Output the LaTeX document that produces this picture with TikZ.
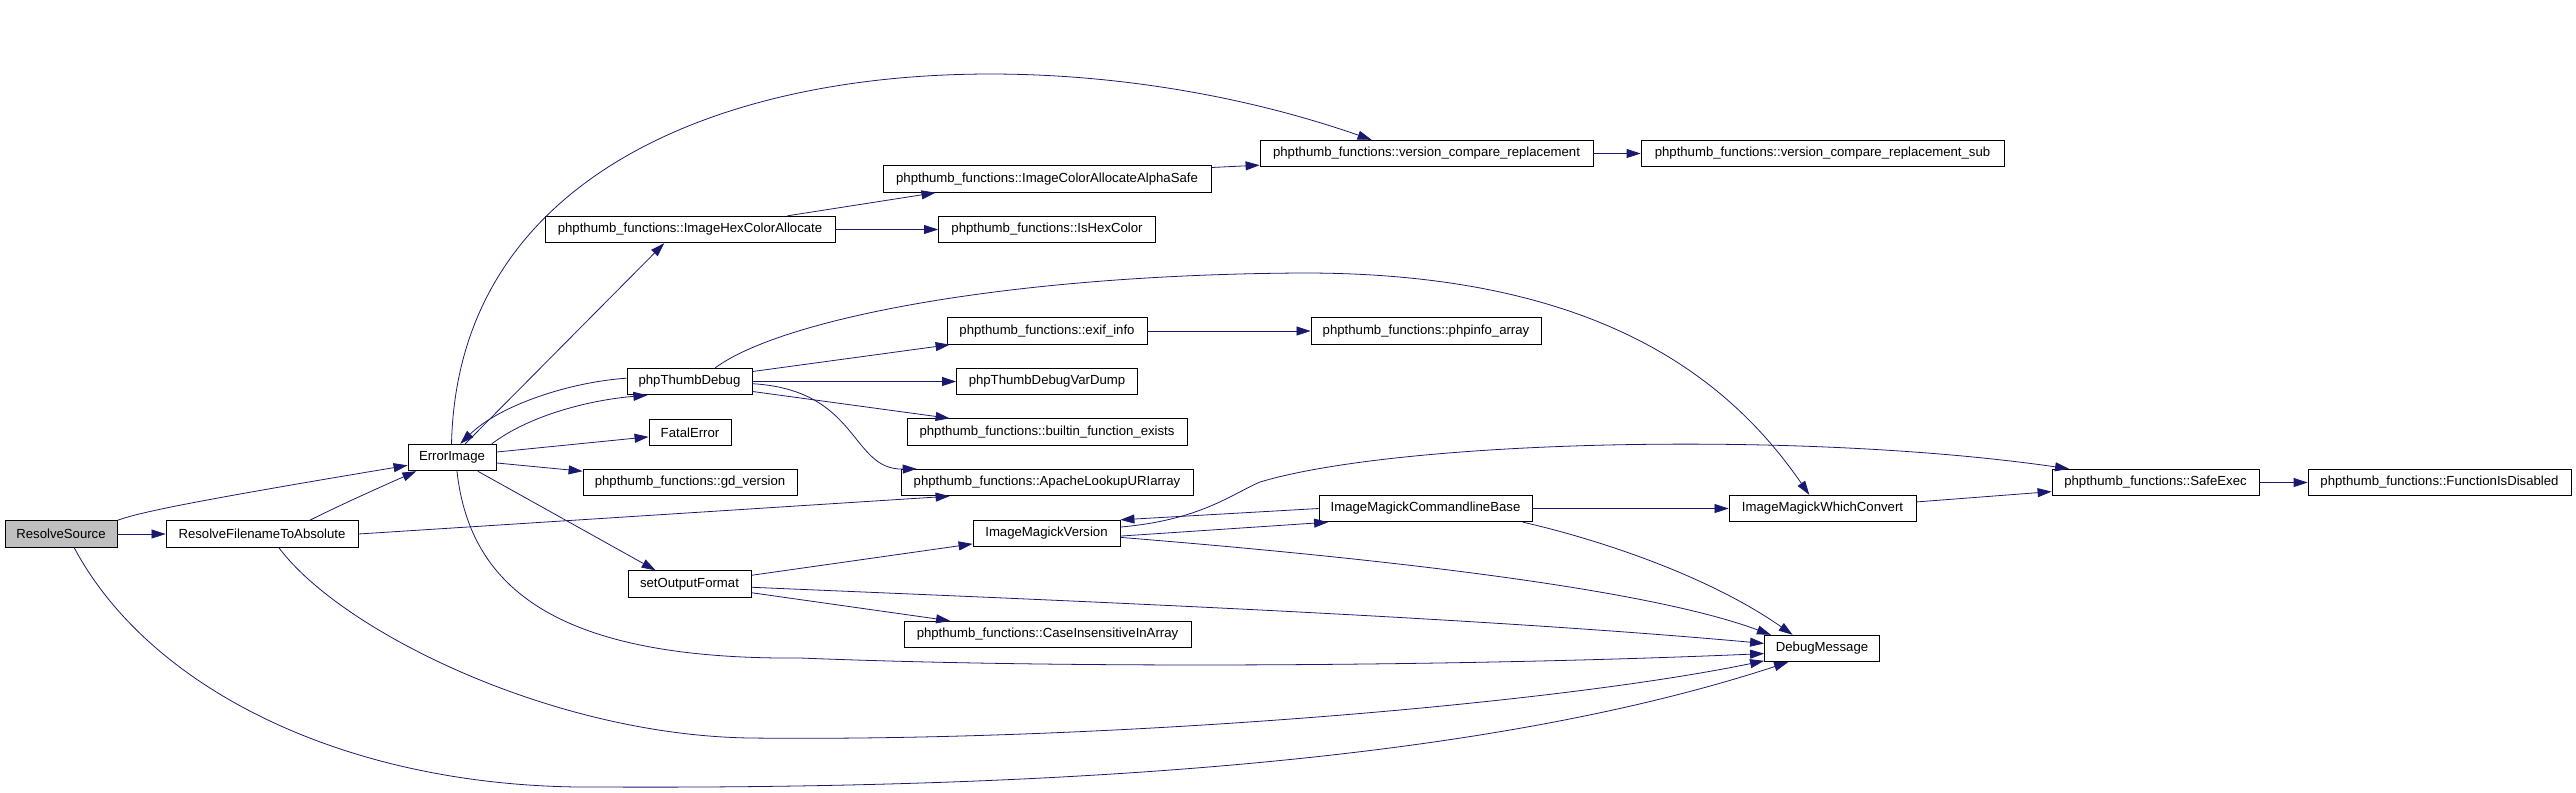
\documentclass[tikz,border=0pt]{standalone}
\usepackage{fontspec}
\setmainfont{Liberation Sans}
\usetikzlibrary{arrows.meta}
\definecolor{edgeblue}{HTML}{191970}
\definecolor{rootgray}{HTML}{BFBFBF}

\begin{document}
\begin{tikzpicture}[x=0.02cm,y=-0.02cm,
  fn/.style={draw,line width=0.5pt,inner sep=0pt,minimum height=0.53cm,font=\fontsize{7.5}{9}\selectfont},
  calls/.style={draw=edgeblue,line width=0.45pt,-{Triangle[length=0.28cm,width=0.18cm]}}]
  \useasboundingbox (0,0) rectangle (2576,792);
  \node[fn,fill=rootgray,minimum width=2.24cm] (rs) at (61,534) {ResolveSource};
  \node[fn,minimum width=3.84cm] (rfa) at (262,534) {ResolveFilenameToAbsolute};
  \node[fn,minimum width=1.76cm] (err) at (452,457.5) {ErrorImage};
  \node[fn,minimum width=5.80cm] (ihca) at (690,229.5) {phpthumb\_functions::ImageHexColorAllocate};
  \node[fn,minimum width=6.56cm] (icaas) at (1047,179) {phpthumb\_functions::ImageColorAllocateAlphaSafe};
  \node[fn,minimum width=4.34cm] (ihc) at (1047,229.5) {phpthumb\_functions::IsHexColor};
  \node[fn,minimum width=6.66cm] (vcr) at (1426.5,153.5) {phpthumb\_functions::version\_compare\_replacement};
  \node[fn,minimum width=7.26cm] (vcrs) at (1822.5,153.5) {phpthumb\_functions::version\_compare\_replacement\_sub};
  \node[fn,minimum width=2.50cm] (ptd) at (689.5,381.5) {phpThumbDebug};
  \node[fn,minimum width=4.00cm] (exif) at (1047,331) {phpthumb\_functions::exif\_info};
  \node[fn,minimum width=4.60cm] (pia) at (1426,331) {phpthumb\_functions::phpinfo\_array};
  \node[fn,minimum width=3.62cm] (ptdvd) at (1047,381.5) {phpThumbDebugVarDump};
  \node[fn,minimum width=1.64cm] (fe) at (690,432.5) {FatalError};
  \node[fn,minimum width=5.60cm] (bfe) at (1047,432) {phpthumb\_functions::builtin\_function\_exists};
  \node[fn,minimum width=4.28cm] (gdv) at (690,482.5) {phpthumb\_functions::gd\_version};
  \node[fn,minimum width=5.84cm] (alu) at (1047,482.5) {phpthumb\_functions::ApacheLookupURIarray};
  \node[fn,minimum width=2.94cm] (imv) at (1046.5,533.5) {ImageMagickVersion};
  \node[fn,minimum width=2.46cm] (sof) at (689.5,584) {setOutputFormat};
  \node[fn,minimum width=5.74cm] (ciia) at (1047.5,634.5) {phpthumb\_functions::CaseInsensitiveInArray};
  \node[fn,minimum width=4.26cm] (imcb) at (1425.5,508.5) {ImageMagickCommandlineBase};
  \node[fn,minimum width=3.74cm] (imwc) at (1822.5,508.5) {ImageMagickWhichConvert};
  \node[fn,minimum width=2.30cm] (dm) at (1822,648.5) {DebugMessage};
  \node[fn,minimum width=4.14cm] (se) at (2155.5,482.5) {phpthumb\_functions::SafeExec};
  \node[fn,minimum width=5.26cm] (fid) at (2439.5,482.5) {phpthumb\_functions::FunctionIsDisabled};

  \draw[calls] (rs) -- (rfa);
  \draw[calls] (rs.north east) .. controls (140,512) and (200,500) .. (err.190);
  \draw[calls] (rs.-46) .. controls (150,690) and (350,790) .. (600,787) .. controls (1200,790) and (1550,740) .. (dm.202);
  \draw[calls] (rfa.16) .. controls (340,505) and (385,485) .. (err.201);
  \draw[calls] (rfa.east) -- (alu.188);
  \draw[calls] (rfa.-39) .. controls (340,630) and (550,735) .. (750,738) .. controls (1100,742) and (1550,705) .. (dm.192);
  \draw[calls] (err.92) .. controls (460,60) and (1000,10) .. (vcr.166);
  \draw[calls] (err.46) -- (ihca.208);
  \draw[calls] (err.19) .. controls (530,415) and (590,400) .. (ptd.198);
  \draw[calls] (err.7) -- (fe.186);
  \draw[calls] (err.-7) -- (gdv.174);
  \draw[calls] (err.-28) -- (sof.158);
  \draw[calls] (err.-70) .. controls (470,590) and (560,660) .. (800,658) .. controls (1100,670) and (1500,665) .. (dm.185);
  \draw[calls] (ihca.8) -- (icaas.187);
  \draw[calls] (ihca) -- (ihc);
  \draw[calls] (icaas.4) -- (vcr.184);
  \draw[calls] (vcr) -- (vcrs);
  \draw[calls] (ptd.177) .. controls (570,382) and (500,405) .. (err.59);
  \draw[calls] (ptd.9) -- (exif.188);
  \draw[calls] (ptd) -- (ptdvd);
  \draw[calls] (ptd.-9) -- (bfe.172);
  \draw[calls] (ptd.-2) .. controls (860,390) and (850,470) .. (alu.174);
  \draw[calls] (ptd.28) .. controls (780,320) and (1000,275) .. (1300,273) .. controls (1600,272) and (1730,380) .. (imwc.134);
  \draw[calls] (exif) -- (pia);
  \draw[calls] (sof.8) -- (imv.188);
  \draw[calls] (sof.-3) .. controls (1000,598) and (1450,615) .. (dm.175);
  \draw[calls] (sof.-8) -- (ciia.172);
  \draw[calls] (imv.-2) -- (imcb.188);
  \draw[calls] (imv.-3) .. controls (1400,560) and (1650,590) .. (dm.165);
  \draw[calls] (imv.5) .. controls (1200,520) and (1230,495) .. (1260,482) .. controls (1400,440) and (1800,430) .. (se.171);
  \draw[calls] (imcb.west) -- (imv.north east);
  \draw[calls] (imcb) -- (imwc);
  \draw[calls] (imcb.-8) .. controls (1580,535) and (1700,570) .. (dm.155);
  \draw[calls] (imwc.4) -- (se.185);
  \draw[calls] (se) -- (fid);
\end{tikzpicture}
\end{document}
